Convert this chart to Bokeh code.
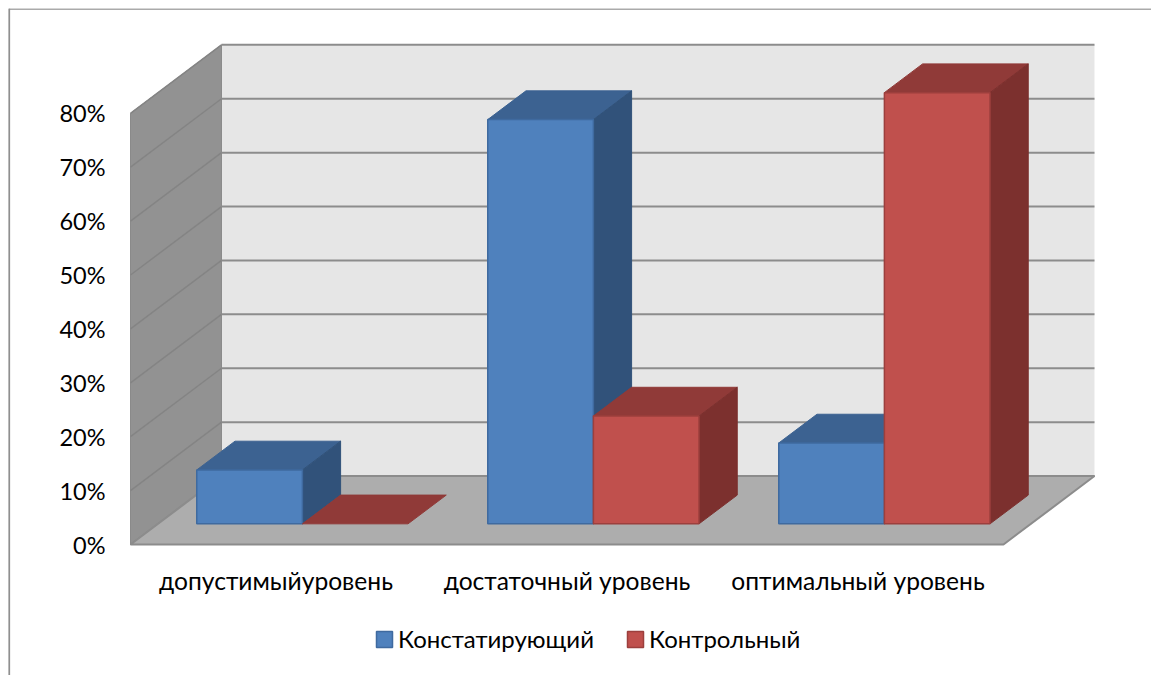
from bokeh.plotting import figure
from bokeh.models import Range1d, FixedTicker, PrintfTickFormatter, Legend, LegendItem
from bokeh.embed import file_html
from bokeh.resources import INLINE

categories = ["допустимыйуровень", "достаточный уровень", "оптимальный уровень"]
series_names = ["Констатирующий", "Контрольный"]
konstat = [10, 75, 15]
kontrol = [0, 20, 80]
y_ticks = [0, 10, 20, 30, 40, 50, 60, 70, 80]

FONT = "Lato"
DX, DY = 0.3127, 12.7          # oblique depth of the chart box, in data units
D0, D1 = 0.29, 0.71            # bar depth span inside the box
LIFT = 0.15                    # small vertical nudge of the bars, in percent
BAR_W = 0.363                  # one bar's width in category units
NCAT = len(categories)
XS, YS = 291.0, 5.39           # pixels per category, pixels per percent

x0r, x1r = (8 - 130) / XS, (1151 - 130) / XS
y0r, y1r = (544 - 675) / YS, (544 - 8) / YS
p = figure(width=1143, height=667, output_backend="svg", toolbar_location=None,
           x_range=Range1d(x0r, x1r), y_range=Range1d(y0r, y1r),
           min_border_left=0, min_border_right=0, min_border_top=0, min_border_bottom=0,
           outline_line_color=None, background_fill_color="white", border_fill_color="white",
           styles={"margin-left": "8px", "margin-top": "8px"})
p.grid.visible = False

# outer chart border: only top and left reach inside the picture
p.line([x0r, x0r, x1r], [y0r, y1r - 0.1, y1r - 0.1], line_color="#8f8f8f", line_width=1.5)
p.segment([x0r + 0.003], [y0r], [x0r + 0.003], [y1r], line_color="#8f8f8f", line_width=1.5)

# walls and floor
p.patch([DX, DX + NCAT, DX + NCAT, DX], [DY, DY, 80 + DY, 80 + DY], fill_color="#e6e6e6", line_color=None)
p.patch([0, DX, DX, 0], [0, DY, 80 + DY, 80], fill_color="#929292", line_color="#8a8a8a", line_width=1)
p.segment([0] * len(y_ticks), y_ticks, [DX] * len(y_ticks), [t + DY for t in y_ticks],
          line_color="#848484", line_width=1.5)
p.segment([DX] * len(y_ticks), [t + DY for t in y_ticks], [DX + NCAT] * len(y_ticks),
          [t + DY for t in y_ticks], line_color="#8c8c8c", line_width=2)
p.patch([0, NCAT, NCAT + DX, DX], [0, 0, DY, DY], fill_color="#adadad", line_color="#8c8c8c", line_width=2)


def draw(i, val, front, top, side, edge, sign):
    c = i + 0.5 + D0 * DX
    x0 = c if sign > 0 else c - BAR_W
    x1 = x0 + BAR_W
    yb = D0 * DY + LIFT
    yt = val + yb
    dx, dy = (D1 - D0) * DX, (D1 - D0) * DY
    p.patch([x0, x1, x1 + dx, x0 + dx], [yt, yt, yt + dy, yt + dy],
            fill_color=top, line_color=top, line_width=1)
    if val > 0:
        p.patch([x1, x1 + dx, x1 + dx, x1], [yb, yb + dy, yt + dy, yt],
                fill_color=side, line_color=side, line_width=1)
        return p.quad(left=x0, right=x1, bottom=yb, top=yt,
                      fill_color=front, line_color=edge, line_width=1.5)
    return None


blue_r, red_r = None, None
for i in range(NCAT):
    r = draw(i, konstat[i], "#4f81bd", "#3c6291", "#31527a", "#3f6a9f", -1)
    blue_r = r or blue_r
    r = draw(i, kontrol[i], "#c0504d", "#903a38", "#7c302e", "#9c3f3d", 1)
    red_r = r or red_r

# axes, pinned at the front corner of the box
p.yaxis.fixed_location = 0
p.yaxis.ticker = FixedTicker(ticks=y_ticks)
p.yaxis.formatter = PrintfTickFormatter(format="%d%%")
p.yaxis.axis_line_color = None
p.yaxis.major_tick_line_color = None
p.yaxis.minor_tick_line_color = None
p.yaxis.major_label_text_font = FONT
p.yaxis.major_label_text_font_size = "23.5px"
p.yaxis.major_label_text_color = "#000000"
p.yaxis.major_label_standoff = 19

p.xaxis.fixed_location = 0
p.xaxis.ticker = FixedTicker(ticks=[i + 0.5 for i in range(NCAT)])
p.xaxis.major_label_overrides = {i + 0.5: c for i, c in enumerate(categories)}
p.xaxis.axis_line_color = None
p.xaxis.major_tick_line_color = None
p.xaxis.minor_tick_line_color = None
p.xaxis.major_label_text_font = FONT
p.xaxis.major_label_text_font_size = "24.6px"
p.xaxis.major_label_text_color = "#000000"
p.xaxis.major_label_standoff = 15

legend = Legend(items=[LegendItem(label=series_names[0], renderers=[blue_r]),
                       LegendItem(label=series_names[1], renderers=[red_r])],
                orientation="horizontal", location=(366, 22),
                background_fill_alpha=0, border_line_color=None,
                label_text_font=FONT, label_text_font_size="24px", label_text_color="#000000",
                glyph_width=20, glyph_height=20, spacing=31, padding=0, margin=0,
                label_standoff=4)
p.add_layout(legend, "center")

open("out.html", "w").write(file_html(p, INLINE))
